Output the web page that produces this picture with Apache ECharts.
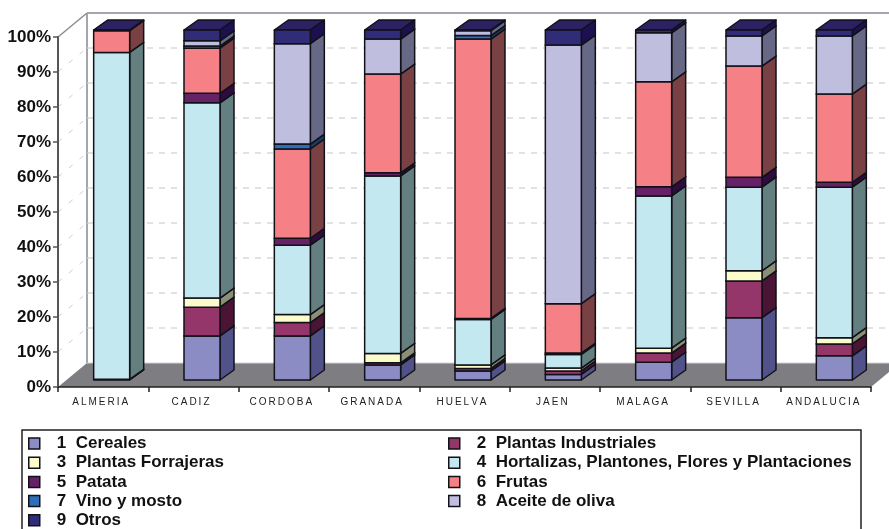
<!DOCTYPE html>
<html><head><meta charset="utf-8">
<style>html,body{margin:0;padding:0;background:#fff}#c{width:889px;height:529px}</style>
<script src="https://cdn.jsdelivr.net/npm/echarts@6/dist/echarts.min.js"></script>
</head><body><div id="c"></div>
<script>
const categories = ['ALMERIA','CADIZ','CORDOBA','GRANADA','HUELVA','JAEN','MALAGA','SEVILLA','ANDALUCIA'];
const yTicks = [0,10,20,30,40,50,60,70,80,90,100];
const cereales     = [0.2,12.6,12.6,4.3,2.6,1.6,5.1,17.8,6.9];
const industriales = [0,8.2,3.8,0.6,0.7,1.0,2.6,10.5,3.4];
const forrajeras   = [0,2.6,2.3,2.7,1.0,0.8,1.4,2.9,1.8];
const hortalizas   = [93.4,55.8,19.8,50.7,13.0,3.9,43.5,23.9,43.0];
const patata       = [0,2.7,2.0,0.9,0.3,0.4,2.6,2.8,1.4];
const frutas       = [6.2,12.9,25.5,28.2,79.8,14.1,30.0,31.8,25.2];
const vino         = [0,0.6,1.4,0,1.0,0,0,0,0];
const aceite       = [0,1.5,28.7,10.0,1.4,73.9,14.0,8.6,16.6];
const otros        = [0.2,3.1,3.9,2.6,0.2,4.3,0.8,1.7,1.7];

const seriesDefs = [
  ['1  Cereales', cereales, '#8C8CC4', '#52528A'],
  ['2  Plantas Industriales', industriales, '#95366B', '#4A1435'],
  ['3  Plantas Forrajeras', forrajeras, '#FBFBCB', '#8A8F75'],
  ['4  Hortalizas, Plantones, Flores y Plantaciones', hortalizas, '#C3E8F0', '#637F80'],
  ['5  Patata', patata, '#662266', '#300B40'],
  ['6  Frutas', frutas, '#F58086', '#7A4145'],
  ['7  Vino y mosto', vino, '#2E6DB8', '#1A3C6A'],
  ['8  Aceite de oliva', aceite, '#C0BEDE', '#666885'],
  ['9  Otros', otros, '#312C78', '#1D1050']
];
const topColors = {'#312C78':'#2B2163'};

// 3D projection constants (pixels)
const WALL_DX = 29, WALL_DY = 24;
const BAR_W = 36, BAR_DX = 14, BAR_DY = 10, BAR_SHIFT_X = 8.5, BAR_SHIFT_Y = 7;
const EDGE = '#111118';

function frameItem(params, api) {
  const v = api.value(0);
  const p = api.coord([0, v]);
  const cs = params.coordSys;
  const x0 = cs.x, y = p[1];
  const right = cs.x + cs.width;
  const kids = [];
  const dash = {stroke:'#cfcfcf', lineWidth:1.2, lineDash:[6,6]};
  const diag = {stroke:'#cfcfcf', lineWidth:1, lineDash:[5,9]};
  if (v === 0) {
    kids.push({type:'line', shape:{x1:x0+WALL_DX,y1:y-WALL_DY-350,x2:x0+WALL_DX,y2:y-WALL_DY}, style:{stroke:'#a5a5ad',lineWidth:2}});
    kids.push({type:'polygon', shape:{points:[[x0,y],[x0+WALL_DX,y-WALL_DY],[right+WALL_DX,y-WALL_DY],[right,y]]}, style:{fill:'#7E7E82'}});
    kids.push({type:'line', shape:{x1:x0+WALL_DX,y1:y-WALL_DY,x2:right+WALL_DX,y2:y-WALL_DY}, style:{stroke:'#d4d4d4',lineWidth:1}});
  } else if (v === 100) {
    kids.push({type:'line', shape:{x1:x0,y1:y,x2:x0+WALL_DX,y2:y-WALL_DY}, style:{stroke:'#8c8c92',lineWidth:1.5}});
    kids.push({type:'line', shape:{x1:x0+WALL_DX,y1:y-WALL_DY,x2:right+WALL_DX,y2:y-WALL_DY}, style:{stroke:'#a5a5ad',lineWidth:2}});
  } else {
    kids.push({type:'line', shape:{x1:x0,y1:y,x2:x0+WALL_DX,y2:y-WALL_DY}, style:diag});
    kids.push({type:'line', shape:{x1:x0+WALL_DX,y1:y-WALL_DY,x2:right+WALL_DX,y2:y-WALL_DY}, style:dash});
  }
  return {type:'group', children:kids};
}

function barRender(front, side, topFill) {
  return function (params, api) {
    const c = api.value(0), lo = api.value(1), hi = api.value(2);
    if (hi - lo <= 0) return null;
    const a = api.coord([c, lo]), b = api.coord([c, hi]);
    const xL = a[0] + BAR_SHIFT_X - BAR_W / 2, xR = xL + BAR_W;
    const yB = a[1] - BAR_SHIFT_Y, yT = b[1] - BAR_SHIFT_Y;
    const st = (fill) => ({fill, stroke:EDGE, lineWidth:1.5, lineJoin:'round'});
    return {type:'group', children:[
      {type:'polygon', shape:{points:[[xL,yT],[xR,yT],[xR+BAR_DX,yT-BAR_DY],[xL+BAR_DX,yT-BAR_DY]]}, style:st(topFill)},
      {type:'polygon', shape:{points:[[xR,yB],[xR+BAR_DX,yB-BAR_DY],[xR+BAR_DX,yT-BAR_DY],[xR,yT]]}, style:st(side)},
      {type:'rect', shape:{x:xL,y:yT,width:BAR_W,height:yB-yT}, style:st(front)}
    ]};
  };
}

const running = categories.map(() => 0);
const barSeries = seriesDefs.map(([name, vals, front, side]) => {
  const data = vals.map((v, i) => { const lo = running[i]; running[i] += v; return [i, lo, running[i]]; });
  return {
    type:'custom', name, data, z:3,
    itemStyle:{color:front},
    encode:{x:0, y:2},
    renderItem: barRender(front, side, topColors[front] || side)
  };
});

const legendFont = {fontFamily:'"Liberation Sans",Arial,sans-serif', fontWeight:'bold', fontSize:17, color:'#111', padding:[0,0,0,12]};
function legendCol(names, left) {
  return {
    show:true, orient:'vertical', left, top:435, itemWidth:11, itemHeight:11, itemGap:2.2,
    icon:'rect', selectedMode:false, padding:0, textStyle:legendFont,
    itemStyle:{borderColor:EDGE, borderWidth:1.5},
    data:names
  };
}
const names = seriesDefs.map(s => s[0]);

const chart = echarts.init(document.getElementById('c'), null, {renderer:'canvas'});
chart.setOption({
  animation:false,
  backgroundColor:'#fff',
  grid:{left:58, right:18, top:37, bottom:142, containLabel:false},
  xAxis:{
    type:'category', data:categories, z:10,
    axisLine:{lineStyle:{color:'#222',width:1.5}},
    axisTick:{show:true, length:5, lineStyle:{color:'#222',width:1.5}},
    axisLabel:{color:'#222', fontFamily:'"Liberation Sans",Arial,sans-serif', fontSize:10, margin:10, interval:0,
      padding:[0,6,0,0],
      formatter:(s)=>s.split('').join('\u2009')}
  },
  yAxis:{
    type:'value', min:0, max:100, interval:10, z:10,
    splitLine:{show:false},
    axisLine:{show:true, lineStyle:{color:'#555',width:2}},
    axisTick:{show:true, length:5, lineStyle:{color:'#555',width:1.5}},
    axisLabel:{color:'#111', fontFamily:'"Liberation Sans",Arial,sans-serif', fontWeight:'bold', fontSize:17, margin:7, formatter:'{value}%'}
  },
  legend:[
    legendCol(names.filter((n,i)=>i%2===0), 28),
    legendCol(names.filter((n,i)=>i%2===1), 448)
  ],
  graphic:[{type:'rect', z:-1, shape:{x:22,y:430,width:839,height:110}, style:{fill:'#fff',stroke:'#222',lineWidth:1.5}}],
  series:[{
    type:'custom', name:'frame', data:yTicks.map(v=>[v]), z:1, silent:true,
    encode:{y:0}, renderItem:frameItem
  }].concat(barSeries)
});
</script></body></html>
